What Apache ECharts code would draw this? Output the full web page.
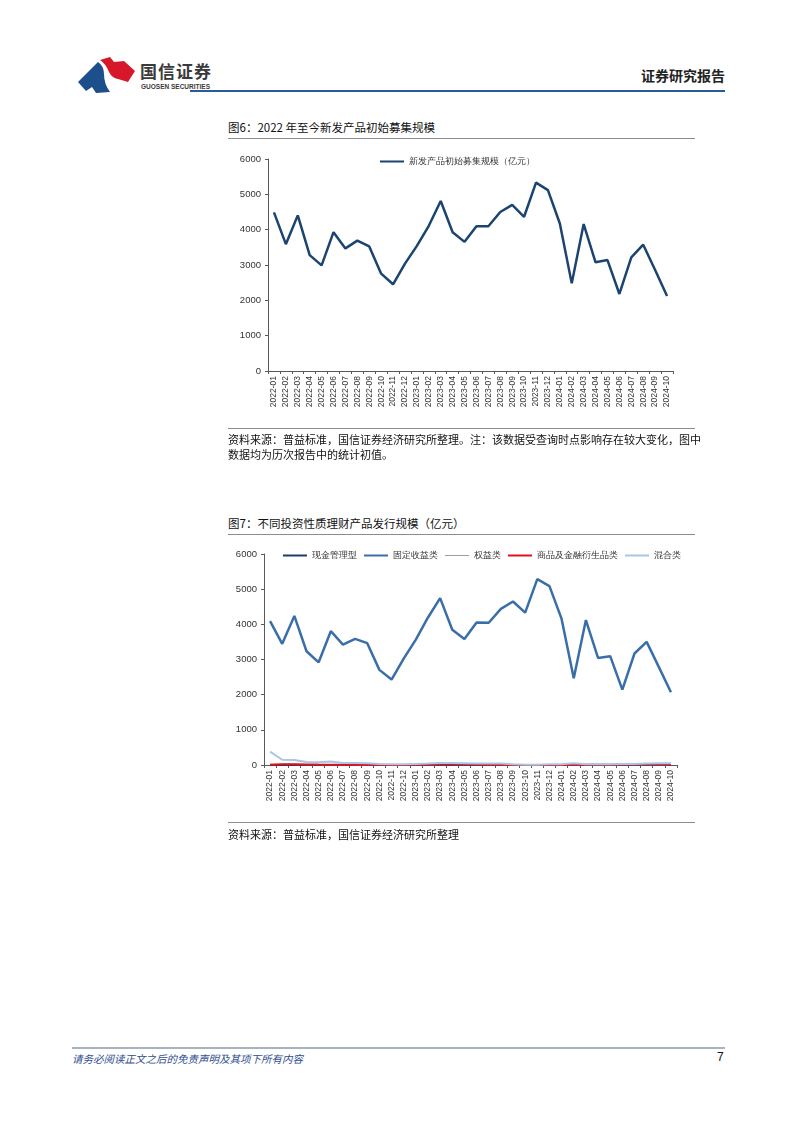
<!DOCTYPE html>
<html lang="zh">
<head>
<meta charset="UTF-8">
<title>国信证券 理财产品发行规模</title>
<script src="https://cdn.jsdelivr.net/npm/echarts@6/dist/echarts.min.js"></script>
<style>
  body { margin: 0; background: #fff; font-family: "Noto Sans CJK SC", "Noto Sans", sans-serif; }
  #page { position: relative; width: 802px; height: 1133px; overflow: hidden; }
  .abs { position: absolute; white-space: nowrap; }
  .title { font-size: 11.5px; color: #111; }
  .src { font-size: 11px; color: #111; line-height: 15px; }
  .rule { position: absolute; height: 1px; background: #8c8c8c; }
</style>
</head>
<body>
<div id="page">
  <!-- 页眉 -->
  <svg class="abs" style="left:76px;top:54px" width="62" height="42" viewBox="76 54 62 42">
    <path d="M78 82 L98 62 Q104 66 104 74 Q104 84 110 92 L96 93 L92 87 L86 91 Z" fill="#1d4f8c"/>
    <path d="M100 60 L110 57 L114 62 L124 61 L135 71 L128 82 L118 79 Q112 78 109 72 Q106 64 100 60 Z" fill="#d7182a"/>
  </svg>
  <div class="abs" style="left:140px;top:58px;font-size:17px;font-weight:bold;color:#3a3a3a;letter-spacing:1px">国信证券</div>
  <div class="abs" style="left:141px;top:83px;font-size:6.5px;color:#3a3a3a;font-family:'Liberation Sans',sans-serif;font-weight:bold">GUOSEN SECURITIES</div>
  <div class="abs" style="right:77px;top:65px;font-size:14px;font-weight:bold;color:#222">证券研究报告</div>
  <div class="abs" style="left:190px;top:90px;width:535px;height:2px;background:#2a5a9a"></div>

  <!-- 图6 -->
  <div class="abs title" style="left:228px;top:119px">图6：2022 年至今新发产品初始募集规模</div>
  <div class="rule" style="left:228px;top:138px;width:467px"></div>
  <div id="chart1" class="abs" style="left:220px;top:145px;width:480px;height:285px"></div>
  <div class="rule" style="left:228px;top:428px;width:467px"></div>
  <div class="abs src" style="left:228px;top:432px">资料来源：普益标准，国信证券经济研究所整理。注：该数据受查询时点影响存在较大变化，图中<br>数据均为历次报告中的统计初值。</div>

  <!-- 图7 -->
  <div class="abs title" style="left:228px;top:515px">图7：不同投资性质理财产品发行规模（亿元）</div>
  <div class="rule" style="left:228px;top:534px;width:467px"></div>
  <div id="chart2" class="abs" style="left:220px;top:543px;width:480px;height:280px"></div>
  <div class="rule" style="left:228px;top:822px;width:467px"></div>
  <div class="abs src" style="left:228px;top:827px">资料来源：普益标准，国信证券经济研究所整理</div>

  <!-- 页脚 -->
  <div class="abs" style="left:72px;top:1047px;width:653px;height:2px;background:#a9b3c0"></div>
  <div class="abs" style="left:72px;top:1051px;font-size:10.5px;font-style:italic;color:#2f4f8f">请务必阅读正文之后的免责声明及其项下所有内容</div>
  <div class="abs" style="left:717px;top:1050px;font-size:12px;color:#111;font-family:'Liberation Sans',sans-serif">7</div>
</div>

<script type="text/javascript">
    // 月份
    var months = ['2022-01','2022-02','2022-03','2022-04','2022-05','2022-06','2022-07','2022-08','2022-09','2022-10','2022-11','2022-12',
                  '2023-01','2023-02','2023-03','2023-04','2023-05','2023-06','2023-07','2023-08','2023-09','2023-10','2023-11','2023-12',
                  '2024-01','2024-02','2024-03','2024-04','2024-05','2024-06','2024-07','2024-08','2024-09','2024-10'];
    // 图6：新发产品初始募集规模（亿元）
    var initialRaise = [4490,3590,4405,3280,2990,3930,3470,3690,3525,2755,2455,3040,
                        3540,4110,4810,3925,3655,4100,4095,4500,4700,4365,5330,5120,
                        4175,2480,4160,3075,3140,2180,3215,3575,2860,2125];
    // 图7：不同投资性质
    var cashMgmt    = [2,2,2,2,2,2,2,2,2,2,2,2, 2,2,2,2,2,2,2,2,2,2,2,2, 2,2,2,2,2,2,2,2,2,2];
    var fixedIncome = [4090,3445,4240,3235,2920,3805,3425,3585,3465,2705,2430,3025,
                       3565,4195,4745,3845,3580,4055,4045,4440,4650,4335,5285,5085,
                       4155,2465,4120,3045,3095,2145,3170,3500,2790,2070];
    var equity      = [20,15,15,10,10,10,8,6,6,5,5,5, 5,8,10,10,10,8,8,6,5,5,5,5, 5,5,5,5,5,5,5,5,5,5];
    var commodity   = [10,20,20,15,12,10,10,10,6,5,2,2, 5,12,20,22,18,12,10,6,2,2,2,2, 2,6,6,12,6,12,12,18,18,12];
    var mixed       = [380,150,140,85,75,100,60,60,50,30,20,20, 30,40,55,55,50,40,40,40,20,10,10,20, 20,50,20,30,20,30,30,40,50,50];

    var yTicks = {min: 0, max: 6000, interval: 1000};
    var axisGray = '#595959';

    function baseX(labelSize) {
        return {
            type: 'category',
            data: months,
            boundaryGap: true,
            axisLine: {lineStyle: {color: axisGray, width: 1}},
            axisTick: {show: true, length: 3, interval: 0, lineStyle: {color: axisGray}},
            axisLabel: {interval: 0, rotate: 90, fontSize: labelSize, color: '#333', margin: 5, fontFamily: 'Liberation Sans'}
        };
    }
    function baseY() {
        return {
            type: 'value',
            min: yTicks.min, max: yTicks.max, interval: yTicks.interval,
            axisLine: {show: true, lineStyle: {color: axisGray, width: 1}},
            axisTick: {show: true, length: 3, lineStyle: {color: axisGray}},
            splitLine: {show: false},
            axisLabel: {fontSize: 9.5, color: '#333', margin: 7, fontFamily: 'Liberation Sans',
                        formatter: function (v) { return String(v); }}
        };
    }

    var chart1 = echarts.init(document.getElementById('chart1'));
    chart1.setOption({
        animation: false,
        grid: {left: 48, right: 27, top: 14, bottom: 59},
        legend: {
            left: 160, top: 12, itemWidth: 24, itemHeight: 8, itemGap: 4, padding: 0,
            textStyle: {fontSize: 9, color: '#333'},
            data: [{name: '新发产品初始募集规模（亿元）', icon: 'path://M0,4 L24,4 L24,6 L0,6 Z'}]
        },
        xAxis: baseX(8.5),
        yAxis: baseY(),
        series: [{
            name: '新发产品初始募集规模（亿元）',
            type: 'line',
            data: initialRaise,
            symbol: 'none',
            lineStyle: {color: '#1b4470', width: 2.5},
            itemStyle: {color: '#1b4470'}
        }]
    });

    var names2 = ['现金管理型', '固定收益类', '权益类', '商品及金融衍生品类', '混合类'];
    var colors2 = ['#1f3a63', '#3a6ea8', '#9e9e9e', '#e3101b', '#a7c6e6'];
    var widths2 = [2, 2.5, 1.2, 2, 2];
    var data2 = [cashMgmt, fixedIncome, equity, commodity, mixed];

    var chart2 = echarts.init(document.getElementById('chart2'));
    chart2.setOption({
        animation: false,
        color: colors2,
        grid: {left: 44, right: 23, top: 11, bottom: 58},
        legend: {
            left: 63, top: 8, itemWidth: 24, itemHeight: 8, itemGap: 7, padding: 0,
            textStyle: {fontSize: 8.5, color: '#333'},
            data: names2.map(function (n, i) {
                var h = widths2[i] > 1.5 ? 'M0,4 L24,4 L24,6 L0,6 Z' : 'M0,4.5 L24,4.5 L24,5.5 L0,5.5 Z';
                return {name: n, icon: 'path://' + h};
            })
        },
        xAxis: baseX(8.5),
        yAxis: baseY(),
        series: names2.map(function (n, i) {
            return {
                name: n,
                type: 'line',
                data: data2[i],
                symbol: 'none',
                z: i === 1 ? 3 : 2,
                lineStyle: {color: colors2[i], width: widths2[i]},
                itemStyle: {color: colors2[i]}
            };
        })
    });
</script>
</body>
</html>
